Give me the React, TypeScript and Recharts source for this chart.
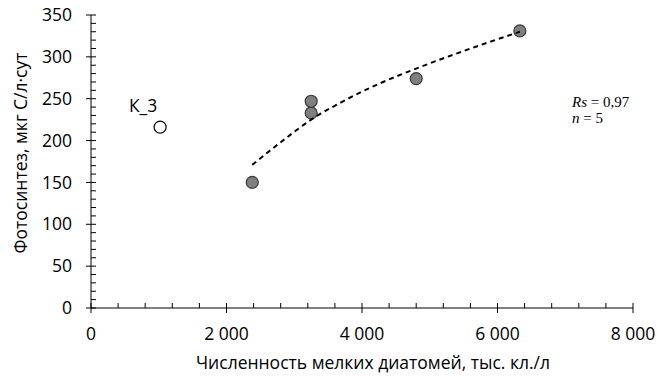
import { ScatterChart, Scatter, XAxis, YAxis } from 'recharts';

// measured stations (small diatoms, thousand cells/l vs photosynthesis)
const diatomCount = [2380, 3250, 3250, 4800, 6330];
const photosynthesis = [150, 233, 247, 274, 331];

// control station, drawn hollow and left out of the trend
const controlNames = ['К_3'];
const controlCount = [1020];
const controlPhoto = [216];

// dashed trend line
const trendCount = [2380, 2800, 3250, 3700, 4200, 4800, 5500, 6330];
const trendPhoto = [171, 198, 225, 246, 266, 286, 307, 330];

const xTicks = [0, 2000, 4000, 6000, 8000];
const xTickLabels = ['0', '2 000', '4 000', '6 000', '8 000'];
const yTicks = [0, 50, 100, 150, 200, 250, 300, 350];
const xMinorTicks = Array.from({ length: 21 }, (_, i) => i * 400);
const yMinorTicks = Array.from({ length: 36 }, (_, i) => i * 10);

const points = diatomCount.map((x, i) => ({ x, y: photosynthesis[i] }));
const controls = controlCount.map((x, i) => ({ x, y: controlPhoto[i], name: controlNames[i] }));
const trend = trendCount.map((x, i) => ({ x, y: trendPhoto[i] }));

const FONT = '"Open Sans", sans-serif';
const FS = 17.5;

const FilledDot = (props: any) => (
  <circle cx={props.cx} cy={props.cy} r={6} fill="#7f7f7f" stroke="#3a3a3a" strokeWidth={1.2} />
);

const HollowDot = (props: any) => (
  <g>
    <circle cx={props.cx} cy={props.cy} r={6} fill="#fff" stroke="#000" strokeWidth={1.2} />
    <text x={props.cx - 17} y={props.cy - 15} textAnchor="middle" fontSize={FS} fill="#000" fontFamily={FONT}>
      {props.payload.name}
    </text>
  </g>
);

const NoDot = () => <g />;
const NoTick = () => <g />;

const XTitle = ({ viewBox }: any) => (
  <text
    x={viewBox.x + viewBox.width / 2 + 11}
    y={viewBox.y + viewBox.height - 11}
    textAnchor="middle"
    fontSize={FS}
    fill="#000"
    fontFamily={FONT}
  >
    Численность мелких диатомей, тыс. кл./л
  </text>
);

const YTitle = ({ viewBox }: any) => (
  <text
    transform={`translate(${viewBox.x + 27}, ${viewBox.y + viewBox.height / 2 - 8.5}) rotate(-90)`}
    textAnchor="middle"
    fontSize={FS}
    fill="#000"
    fontFamily={FONT}
  >
    Фотосинтез, мкг С/л·сут
  </text>
);

const tickStyle = { fill: '#000', fontSize: FS, fontFamily: FONT };

export default function App() {
  return (
    <div style={{ position: 'absolute', left: 0, top: 0, width: 660, height: 380, background: '#fff', fontFamily: FONT }}>
      <ScatterChart width={660} height={380} margin={{ top: 15, right: 27, bottom: 0, left: 0 }}>
        <XAxis
          type="number"
          dataKey="x"
          domain={[0, 8000]}
          ticks={xTicks}
          interval={0}
          tickFormatter={(v: number) => xTickLabels[xTicks.indexOf(v)]}
          height={72}
          stroke="#000"
          tickSize={5}
          tickMargin={15}
          tick={tickStyle}
          label={{ content: XTitle }}
        />
        <XAxis
          xAxisId="minor"
          type="number"
          dataKey="x"
          domain={[0, 8000]}
          ticks={xMinorTicks}
          interval={0}
          mirror
          axisLine={false}
          tick={NoTick}
          tickSize={5}
          stroke="#000"
        />
        <YAxis
          type="number"
          dataKey="y"
          domain={[0, 350]}
          ticks={yTicks}
          interval={0}
          width={91}
          stroke="#000"
          tickSize={5}
          tickMargin={14}
          tick={tickStyle}
          label={{ content: YTitle }}
        />
        <YAxis
          yAxisId="minor"
          type="number"
          dataKey="y"
          domain={[0, 350]}
          ticks={yMinorTicks}
          interval={0}
          mirror
          axisLine={false}
          tick={NoTick}
          tickSize={5}
          stroke="#000"
        />
        <Scatter data={controls} shape={HollowDot} isAnimationActive={false} />
        <Scatter data={points} shape={FilledDot} isAnimationActive={false} />
        <Scatter
          data={trend}
          xAxisId="minor"
          yAxisId="minor"
          shape={NoDot}
          fill="#000"
          line={{ stroke: '#000', strokeWidth: 2, strokeDasharray: '5 4' }}
          lineJointType="monotoneX"
          isAnimationActive={false}
        />
      </ScatterChart>
      <svg width={100} height={44} style={{ position: 'absolute', left: 565, top: 88 }}>
        <text x={7} y={18.5} fontFamily='"Liberation Serif", serif' fontSize={15} fill="#000">
          <tspan fontStyle="italic">Rs</tspan> = 0,97
        </text>
        <text x={7} y={34.5} fontFamily='"Liberation Serif", serif' fontSize={15} fill="#000">
          <tspan fontStyle="italic">n</tspan> = 5
        </text>
      </svg>
    </div>
  );
}
